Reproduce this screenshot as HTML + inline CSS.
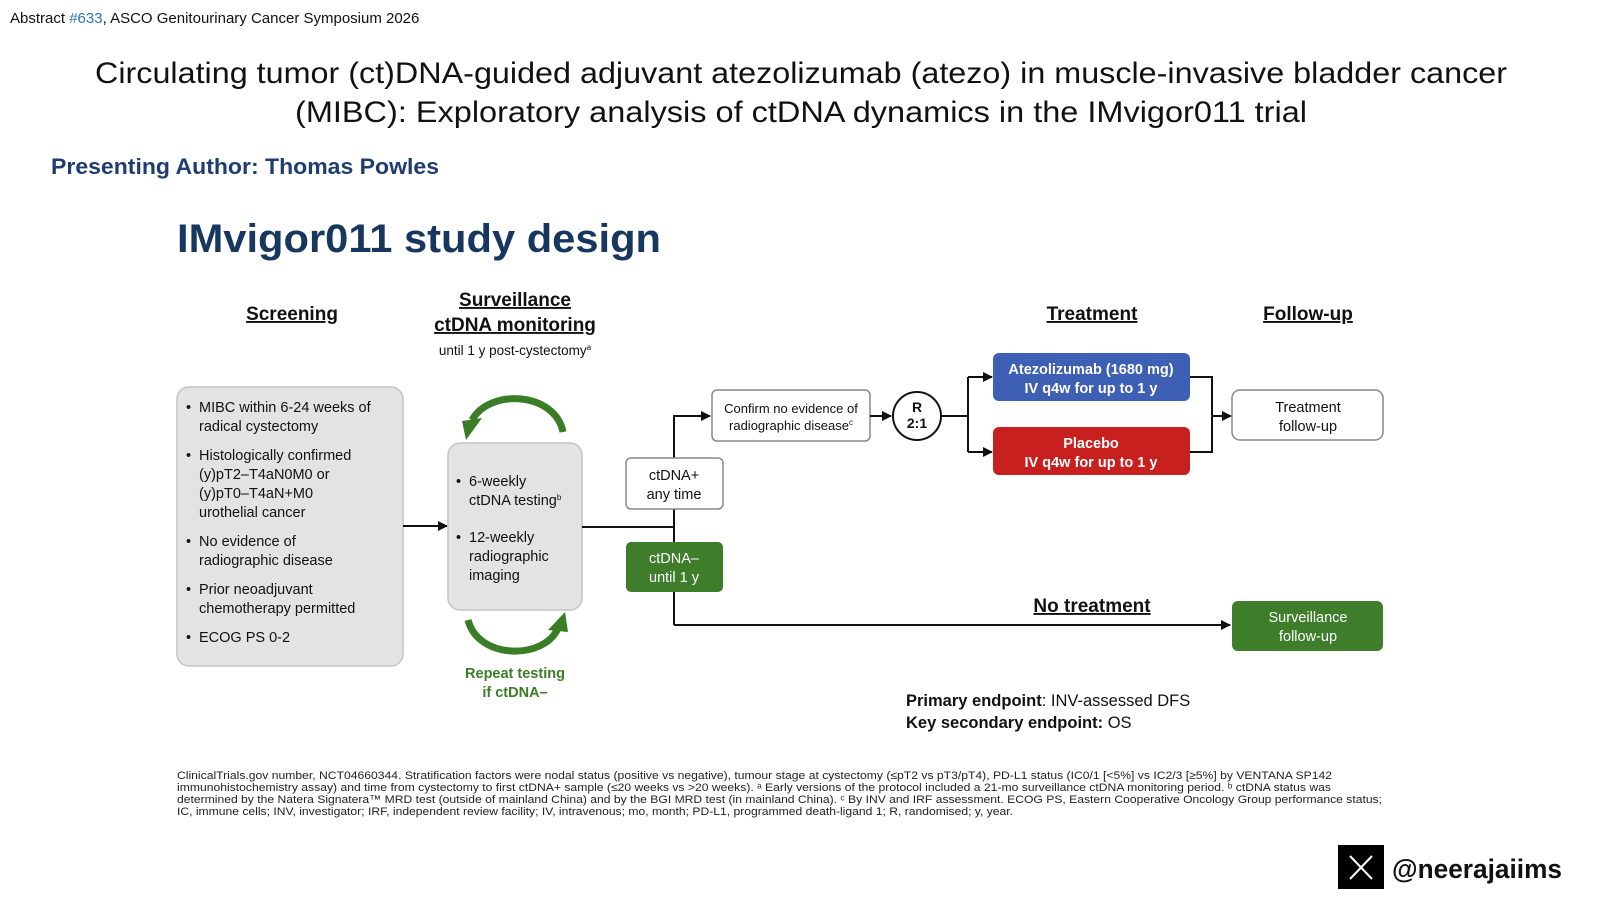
<!DOCTYPE html>
<html><head><meta charset="utf-8"><style>
html,body{margin:0;padding:0;background:#fff;width:1600px;height:900px;overflow:hidden}
svg{display:block}
</style></head><body>
<svg width="1600" height="900" viewBox="0 0 1600 900" xmlns="http://www.w3.org/2000/svg" font-family="Liberation Sans, Arial, sans-serif">
<defs>
<marker id="ah" markerWidth="10" markerHeight="10" refX="9" refY="5" orient="auto" markerUnits="userSpaceOnUse">
<path d="M0,0 L10,5 L0,10 z" fill="#111"/></marker>
</defs>
<text x="10" y="23" font-size="15" fill="#111">Abstract <tspan fill="#2e75b6">#633</tspan>, ASCO Genitourinary Cancer Symposium 2026</text>
<text x="95" y="83" font-size="30" fill="#111" textLength="1412" lengthAdjust="spacingAndGlyphs">Circulating tumor (ct)DNA-guided adjuvant atezolizumab (atezo) in muscle-invasive bladder cancer</text>
<text x="295" y="122" font-size="30" fill="#111" textLength="1012" lengthAdjust="spacingAndGlyphs">(MIBC): Exploratory analysis of ctDNA dynamics in the IMvigor011 trial</text>
<text x="51" y="174" font-size="22" font-weight="bold" fill="#1f3d6e" textLength="388" lengthAdjust="spacingAndGlyphs">Presenting Author: Thomas Powles</text>

<text x="177" y="252" font-size="40" font-weight="bold" fill="#17375e" textLength="484" lengthAdjust="spacingAndGlyphs">IMvigor011 study design</text>

<g font-size="19" font-weight="bold" fill="#111" text-anchor="middle" text-decoration="underline">
<text x="292" y="320">Screening</text>
<text x="515" y="306">Surveillance</text>
<text x="515" y="331">ctDNA monitoring</text>
<text x="1092" y="320">Treatment</text>
<text x="1308" y="320">Follow-up</text>
<text x="1092" y="612">No treatment</text>
</g>
<text x="515" y="355" font-size="13.5" fill="#111" text-anchor="middle">until 1 y post-cystectomy<tspan font-size="8" dy="-5">a</tspan></text>

<rect x="177" y="387" width="226" height="279" rx="12" fill="#e3e3e3" stroke="#c4c4c4" stroke-width="1.5"/>
<g font-size="14.5" fill="#111">
<text x="186" y="412">•</text><text x="199" y="412">MIBC within 6-24 weeks of</text>
<text x="199" y="431">radical cystectomy</text>
<text x="186" y="460">•</text><text x="199" y="460">Histologically confirmed</text>
<text x="199" y="479">(y)pT2–T4aN0M0 or</text>
<text x="199" y="498">(y)pT0–T4aN+M0</text>
<text x="199" y="517">urothelial cancer</text>
<text x="186" y="546">•</text><text x="199" y="546">No evidence of</text>
<text x="199" y="565">radiographic disease</text>
<text x="186" y="594">•</text><text x="199" y="594">Prior neoadjuvant</text>
<text x="199" y="613">chemotherapy permitted</text>
<text x="186" y="642">•</text><text x="199" y="642">ECOG PS 0-2</text>
</g>
<line x1="403" y1="526" x2="447" y2="526" stroke="#111" stroke-width="2" marker-end="url(#ah)"/>

<rect x="448" y="443" width="134" height="167" rx="12" fill="#e3e3e3" stroke="#c4c4c4" stroke-width="1.5"/>
<g font-size="14.5" fill="#111">
<text x="456" y="486">•</text><text x="469" y="486">6-weekly</text>
<text x="469" y="505">ctDNA testing<tspan font-size="8" dy="-5">b</tspan></text>
<text x="456" y="542">•</text><text x="469" y="542">12-weekly</text>
<text x="469" y="561">radiographic</text>
<text x="469" y="580">imaging</text>
</g>
<path d="M563,432 C555,392 490,388 472,420" fill="none" stroke="#3a7d27" stroke-width="7"/>
<path d="M462,421 L482,418 L466,440 z" fill="#3a7d27"/>
<path d="M468,620 C478,660 545,660 558,628" fill="none" stroke="#3a7d27" stroke-width="7"/>
<path d="M548,630 L568,632 L565,612 z" fill="#3a7d27"/>
<text x="515" y="678" font-size="14.5" font-weight="bold" fill="#3a7d27" text-anchor="middle">Repeat testing</text>
<text x="515" y="697" font-size="14.5" font-weight="bold" fill="#3a7d27" text-anchor="middle">if ctDNA–</text>

<line x1="582" y1="527" x2="674" y2="527" stroke="#111" stroke-width="2"/>
<polyline points="674,625 674,416 710,416" fill="none" stroke="#111" stroke-width="2" marker-end="url(#ah)"/>
<line x1="674" y1="625" x2="1230" y2="625" stroke="#111" stroke-width="2" marker-end="url(#ah)"/>

<rect x="626" y="458" width="97" height="51" rx="5" fill="#fff" stroke="#888" stroke-width="1.5"/>
<text x="674" y="480" font-size="14.5" fill="#111" text-anchor="middle">ctDNA+</text>
<text x="674" y="499" font-size="14.5" fill="#111" text-anchor="middle">any time</text>
<rect x="626" y="542" width="97" height="50" rx="5" fill="#3e7d2a"/>
<text x="674" y="563" font-size="14.5" fill="#fff" text-anchor="middle">ctDNA–</text>
<text x="674" y="582" font-size="14.5" fill="#fff" text-anchor="middle">until 1 y</text>

<rect x="712" y="390" width="158" height="51" rx="5" fill="#fff" stroke="#888" stroke-width="1.5"/>
<text x="791" y="413" font-size="13" fill="#111" text-anchor="middle">Confirm no evidence of</text>
<text x="791" y="430" font-size="13" fill="#111" text-anchor="middle">radiographic disease<tspan font-size="8" dy="-5">c</tspan></text>
<line x1="870" y1="416" x2="891" y2="416" stroke="#111" stroke-width="2" marker-end="url(#ah)"/>
<circle cx="917" cy="416" r="24" fill="#fff" stroke="#111" stroke-width="2"/>
<text x="917" y="412" font-size="14" font-weight="bold" fill="#111" text-anchor="middle">R</text>
<text x="917" y="428" font-size="14" font-weight="bold" fill="#111" text-anchor="middle">2:1</text>
<line x1="941" y1="416" x2="968" y2="416" stroke="#111" stroke-width="2"/>
<polyline points="968,377 968,452" fill="none" stroke="#111" stroke-width="2"/>
<line x1="968" y1="377" x2="992" y2="377" stroke="#111" stroke-width="2" marker-end="url(#ah)"/>
<line x1="968" y1="452" x2="992" y2="452" stroke="#111" stroke-width="2" marker-end="url(#ah)"/>

<rect x="993" y="353" width="197" height="48" rx="6" fill="#3d5fb4"/>
<text x="1091" y="374" font-size="14.5" font-weight="bold" fill="#fff" text-anchor="middle">Atezolizumab (1680 mg)</text>
<text x="1091" y="393" font-size="14.5" font-weight="bold" fill="#fff" text-anchor="middle">IV q4w for up to 1 y</text>
<rect x="993" y="427" width="197" height="48" rx="6" fill="#c8201e"/>
<text x="1091" y="448" font-size="14.5" font-weight="bold" fill="#fff" text-anchor="middle">Placebo</text>
<text x="1091" y="467" font-size="14.5" font-weight="bold" fill="#fff" text-anchor="middle">IV q4w for up to 1 y</text>
<polyline points="1190,377 1212,377 1212,452 1190,452" fill="none" stroke="#111" stroke-width="2"/>
<line x1="1212" y1="416" x2="1231" y2="416" stroke="#111" stroke-width="2" marker-end="url(#ah)"/>

<rect x="1232" y="390" width="151" height="50" rx="8" fill="#fff" stroke="#888" stroke-width="1.5"/>
<text x="1308" y="412" font-size="14.5" fill="#111" text-anchor="middle">Treatment</text>
<text x="1308" y="431" font-size="14.5" fill="#111" text-anchor="middle">follow-up</text>
<rect x="1232" y="601" width="151" height="50" rx="6" fill="#3e7d2a"/>
<text x="1308" y="622" font-size="14.5" fill="#fff" text-anchor="middle">Surveillance</text>
<text x="1308" y="641" font-size="14.5" fill="#fff" text-anchor="middle">follow-up</text>

<text x="906" y="706" font-size="16.5" fill="#111"><tspan font-weight="bold">Primary endpoint</tspan>: INV-assessed DFS</text>
<text x="906" y="728" font-size="16.5" fill="#111"><tspan font-weight="bold">Key secondary endpoint:</tspan> OS</text>

<g font-size="11" fill="#222">
<text x="177" y="779" textLength="1155" lengthAdjust="spacingAndGlyphs">ClinicalTrials.gov number, NCT04660344. Stratification factors were nodal status (positive vs negative), tumour stage at cystectomy (≤pT2 vs pT3/pT4), PD-L1 status (IC0/1 [&lt;5%] vs IC2/3 [≥5%] by VENTANA SP142</text>
<text x="177" y="791" textLength="1154" lengthAdjust="spacingAndGlyphs">immunohistochemistry assay) and time from cystectomy to first ctDNA+ sample (≤20 weeks vs &gt;20 weeks). ᵃ Early versions of the protocol included a 21-mo surveillance ctDNA monitoring period. ᵇ ctDNA status was</text>
<text x="177" y="803" textLength="1205" lengthAdjust="spacingAndGlyphs">determined by the Natera Signatera™ MRD test (outside of mainland China) and by the BGI MRD test (in mainland China). ᶜ By INV and IRF assessment. ECOG PS, Eastern Cooperative Oncology Group performance status;</text>
<text x="177" y="815" textLength="836" lengthAdjust="spacingAndGlyphs">IC, immune cells; INV, investigator; IRF, independent review facility; IV, intravenous; mo, month; PD-L1, programmed death-ligand 1; R, randomised; y, year.</text>
</g>

<rect x="1338" y="845" width="46" height="44" fill="#000"/>
<path d="M1350,856 L1372,879 M1372,856 L1350,879" stroke="#fff" stroke-width="2"/>
<text x="1392" y="878" font-size="27" font-weight="bold" fill="#111" textLength="170" lengthAdjust="spacingAndGlyphs">@neerajaiims</text>
</svg>
</body></html>
